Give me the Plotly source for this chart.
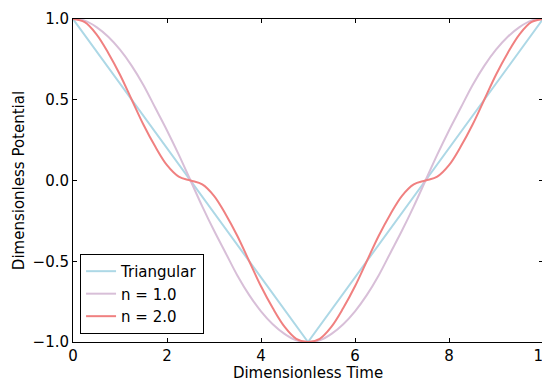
import plotly.graph_objects as go

# Time samples (dimensionless)
t = [i * 0.25 for i in range(41)]

tri_t = [0, 5, 10]
tri_y = [1.0, -1.0, 1.0]

n1_half = [1.00, 0.99, 0.95, 0.89, 0.81, 0.71, 0.59, 0.45, 0.31, 0.16, 0.00,
           -0.16, -0.31, -0.45, -0.59, -0.71, -0.81, -0.89, -0.95, -0.99, -1.00]
n1_y = n1_half + n1_half[-2::-1]

n2_half = [1.00, 0.98, 0.905, 0.79, 0.655, 0.50, 0.345, 0.21, 0.095, 0.024, 0.00,
           -0.024, -0.095, -0.21, -0.345, -0.50, -0.655, -0.79, -0.905, -0.98, -1.00]
n2_y = n2_half + n2_half[-2::-1]

x_ticks = [0, 2, 4, 6, 8, 10]
y_ticks = [-1.0, -0.5, 0.0, 0.5, 1.0]

font = "DejaVu Sans"
fs = 15

fig = go.Figure()
fig.add_trace(go.Scatter(x=tri_t, y=tri_y, mode="lines", name="Triangular",
                         line=dict(color="#add8e6", width=2), cliponaxis=False))
fig.add_trace(go.Scatter(x=t, y=n1_y, mode="lines", name="n = 1.0",
                         line=dict(color="#d8bfd8", width=2, shape="spline"), cliponaxis=False))
fig.add_trace(go.Scatter(x=t, y=n2_y, mode="lines", name="n = 2.0",
                         line=dict(color="#f08080", width=2, shape="spline"), cliponaxis=False))

axis_common = dict(showline=True, linecolor="black", linewidth=1, mirror="ticks",
                   ticks="inside", ticklen=4, tickcolor="black", showgrid=False,
                   zeroline=False, automargin=False, ticklabeloverflow="allow",
                   tickfont=dict(family=font, size=fs, color="black"))

# The page body adds an 8px offset, so the figure is sized to fill the rest of the window.
fig.update_layout(
    width=542, height=374,
    margin=dict(l=65, r=7, t=11, b=40),
    paper_bgcolor="white", plot_bgcolor="white",
    font=dict(family=font, size=fs, color="black"),
    xaxis=dict(range=[0, 10], tickvals=x_ticks,
               title=dict(text="Dimensionless Time", font=dict(family=font, size=fs), standoff=3),
               **axis_common),
    yaxis=dict(range=[-1, 1], tickvals=y_ticks, tickformat=".1f",
               title=dict(text="Dimensionless Potential", font=dict(family=font, size=fs), standoff=4),
               **axis_common),
    legend=dict(x=0.015, y=0.025, xanchor="left", yanchor="bottom",
                bordercolor="black", borderwidth=1, bgcolor="white",
                font=dict(family=font, size=fs), tracegroupgap=0, itemwidth=30),
    showlegend=True,
)

fig.write_html("out.html")
